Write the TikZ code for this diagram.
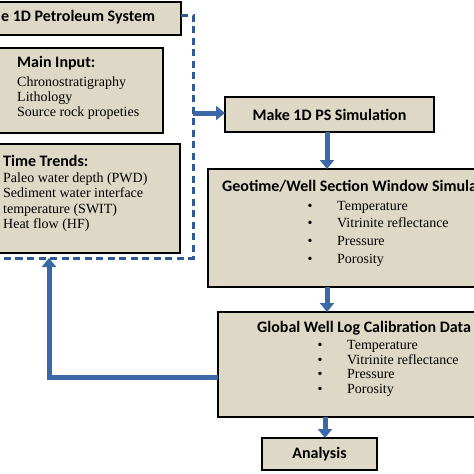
\documentclass[tikz,border=0pt]{standalone}
\usepackage{fontspec}
\setmainfont{Liberation Serif}
\newfontfamily\titlefont{Carlito}
\usetikzlibrary{arrows.meta}
\definecolor{boxfill}{HTML}{DDD9C6}
\definecolor{flowblue}{HTML}{3D68A8}
\definecolor{dashblue}{HTML}{2F5A9A}
\begin{document}
\begin{tikzpicture}[x=1pt,y=-1pt,
  panel/.style={draw=black, line width=1.2pt, fill=boxfill, inner sep=0pt, outer sep=0pt},
  ttl/.style={font=\titlefont\bfseries\fontsize{16}{18}\selectfont, inner sep=0pt},
  body/.style={font=\fontsize{14}{15}\selectfont, inner sep=0pt, align=left},
  flow/.style={draw=flowblue, line width=5pt, -{Triangle[width=14pt,length=9pt]}},
  dashline/.style={draw=dashblue, line width=3pt, dash pattern=on 7pt off 4.5pt}]
\clip (0,0) rectangle (474,474);
\useasboundingbox (0,0) rectangle (474,474);
% boxes
\node[panel, minimum width=241pt, minimum height=33pt, anchor=north west] (top) at (-60,2) {};
\node[panel, minimum width=223pt, minimum height=85pt, anchor=north west] (main) at (-60,48) {};
\node[panel, minimum width=240pt, minimum height=109pt, anchor=north west] (trend) at (-60,144) {};
\node[panel, minimum width=209pt, minimum height=35pt, anchor=north west] (make) at (225,97) {};
\node[panel, minimum width=300pt, minimum height=118pt, anchor=north west] (geo) at (208,169) {};
\node[panel, minimum width=290pt, minimum height=105pt, anchor=north west] (glob) at (218,312) {};
\node[panel, minimum width=115pt, minimum height=32pt, anchor=north west] (ana) at (262,438) {};
% dashed group outline
\coordinate (d1) at (193,15);
\coordinate (d2) at (193,258);
\coordinate (d3) at (-10,258);
\draw[dashline] (top.east |- d1) -- (d1) -- (d2) -- (d3);
% arrows
\coordinate (dm) at (193,113);
\draw[flow] (dm) -- (make.west |- dm);
\coordinate (ax) at (327,0);
\draw[flow] (make.south -| ax) -- (geo.north -| ax);
\draw[flow] (geo.south -| ax) -- (glob.north -| ax);
\coordinate (bx) at (325,0);
\draw[flow] (glob.south -| bx) -- (ana.north -| bx);
\coordinate (fb) at (49,377);
\draw[flow, line join=miter] (glob.west |- fb) -- (fb) -- (fb |- d2);
% texts
\node[ttl, anchor=west] (toptxt) at (1,17) {e 1D Petroleum System};
\node[ttl, anchor=west] (maint) at (17,63) {Main Input:};
\node[body, anchor=west] (mainb) at (17,98) {Chronostratigraphy\\Lithology\\Source rock propeties};
\node[ttl, anchor=west] (trendt) at (3,161) {Time Trends:};
\node[body, anchor=west, font=\fontsize{14}{15.3}\selectfont] (trendb) at (3,202) {Paleo water depth (PWD)\\Sediment water interface\\temperature (SWIT)\\Heat flow (HF)};
\node[ttl] (maket) at (make) {Make 1D PS Simulation};
\node[ttl, anchor=west] (geot) at (222,186) {Geotime/Well Section Window Simula};
\node[body, align=center, font=\fontsize{14}{17.7}\selectfont] (geobul) at (310,233.5) {•\\•\\•\\•};
\node[body, anchor=west, font=\fontsize{14}{17.7}\selectfont] (geob) at (337,233.5) {Temperature\\Vitrinite reflectance\\Pressure\\Porosity};
\node[ttl, anchor=west] (globt) at (257,328) {Global Well Log Calibration Data};
\node[body, align=center, font=\fontsize{14}{14.5}\selectfont] (globbul) at (320,368.5) {•\\•\\•\\•};
\node[body, anchor=west, font=\fontsize{14}{14.5}\selectfont] (globb) at (347,368.5) {Temperature\\Vitrinite reflectance\\Pressure\\Porosity};
\node[ttl] (anat) at (ana) {Analysis};
\end{tikzpicture}
\end{document}
